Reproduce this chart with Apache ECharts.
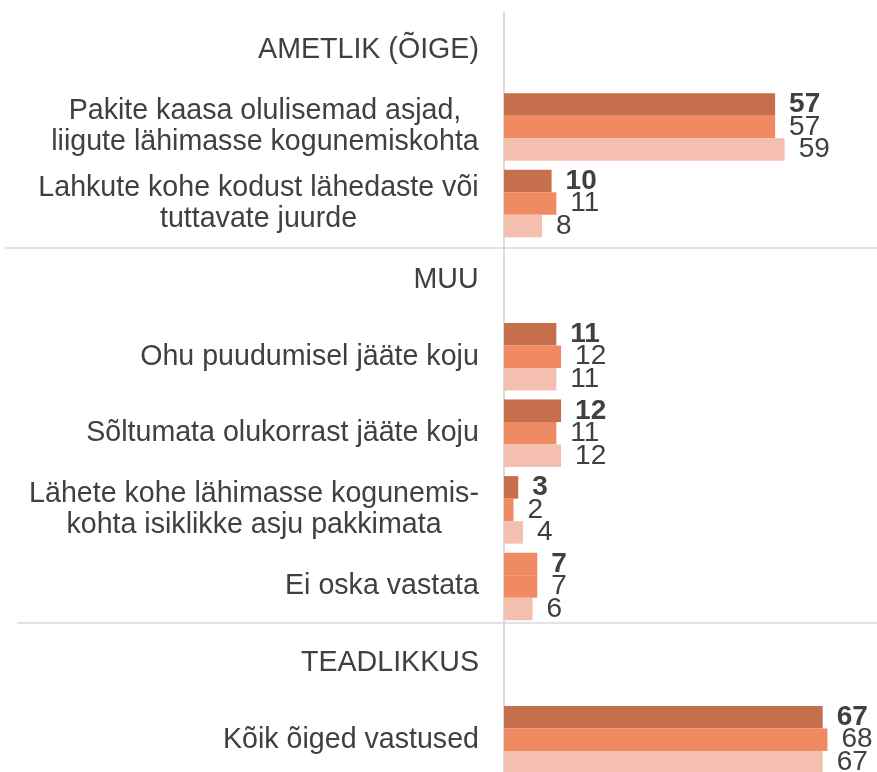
<!DOCTYPE html>
<html>
<head>
<meta charset="utf-8">
<script src="https://cdn.jsdelivr.net/npm/echarts@6/dist/echarts.min.js"></script>
<style>
  html, body { margin: 0; padding: 0; background: #fff; }
  #chart { width: 877px; height: 772px; }
</style>
</head>
<body>
<div id="chart"></div>
<script>
// kategooriad (pealkirjaread ilma tulpadeta)
const categories = [
  'AMETLIK (ÕIGE)',
  'Pakite kaasa olulisemad asjad,\nliigute lähimasse kogunemiskohta',
  'Lahkute kohe kodust lähedaste või\ntuttavate juurde',
  'MUU',
  'Ohu puudumisel jääte koju',
  'Sõltumata olukorrast jääte koju',
  'Lähete kohe lähimasse kogunemis-\nkohta isiklikke asju pakkimata',
  'Ei oska vastata',
  'TEADLIKKUS',
  'Kõik õiged vastused'
]
const series1 = ['-', 57, 10, '-', 11, 12, 3, 7, '-', 67]
const series2 = ['-', 57, 11, '-', 12, 11, 2, 7, '-', 68]
const series3 = ['-', 59, 8, '-', 11, 12, 4, 6, '-', 67]
const seriesNames = ['1', '2', '3']
const colors = ['#C56F4D', '#EF8A62', '#F5BFAF']

const catSize = 28.6
const fontFam = '"Liberation Sans", Arial, sans-serif'

// mitmerealiste siltide read keskele: iga kategooria jaoks oma rich-stiil
const ctx = document.createElement('canvas').getContext('2d')
ctx.font = catSize + 'px ' + fontFam
const rich = {}
categories.forEach((c, i) => {
  const w = Math.max(...c.split('\n').map(s => ctx.measureText(s).width))
  rich['c' + i] = { width: Math.ceil(w), align: 'center', fontSize: catSize, lineHeight: 31, color: '#404040', fontFamily: fontFam }
})

const myChart = echarts.init(document.getElementById('chart'))

const labelBase = {
  show: true,
  position: 'right',
  distance: 14,
  fontSize: 28,
  color: '#404040',
  fontFamily: fontFam
}

function makeSeries (name, data, color, bold) {
  return {
    name: name,
    type: 'bar',
    data: data,
    barWidth: 22.5,
    barGap: '0%',
    itemStyle: { color: color },
    label: Object.assign({}, labelBase, { fontWeight: bold ? 'bold' : 'normal' }),
    silent: true
  }
}

// "Ei oska vastata" esimene tulp on originaalis keskmise värviga
const s1 = series1.map((v, i) => i === 7 ? { value: v, itemStyle: { color: colors[1] } } : v)

myChart.setOption({
  animation: false,
  grid: {
    left: 504,
    right: 2,
    top: 12,
    height: 766,
    outerBoundsMode: 'none'
  },
  xAxis: {
    type: 'value',
    min: 0,
    max: 78,
    show: false
  },
  yAxis: {
    type: 'category',
    inverse: true,
    data: categories,
    axisLine: { show: true, lineStyle: { color: '#d9d9d9', width: 2 } },
    axisTick: { show: false },
    axisLabel: {
      margin: 25,
      formatter: function (value, idx) {
        return value.split('\n').map(s => '{c' + idx + '|' + s + '}').join('\n')
      },
      rich: rich
    }
  },
  graphic: [
    { type: 'line', shape: { x1: 5, y1: 248, x2: 877, y2: 248 }, style: { stroke: '#d9d9d9', lineWidth: 1.5 } },
    { type: 'line', shape: { x1: 17, y1: 623, x2: 877, y2: 623 }, style: { stroke: '#d9d9d9', lineWidth: 1.5 } }
  ],
  series: [
    makeSeries(seriesNames[0], s1, colors[0], true),
    makeSeries(seriesNames[1], series2, colors[1], false),
    makeSeries(seriesNames[2], series3, colors[2], false)
  ]
})
</script>
</body>
</html>
